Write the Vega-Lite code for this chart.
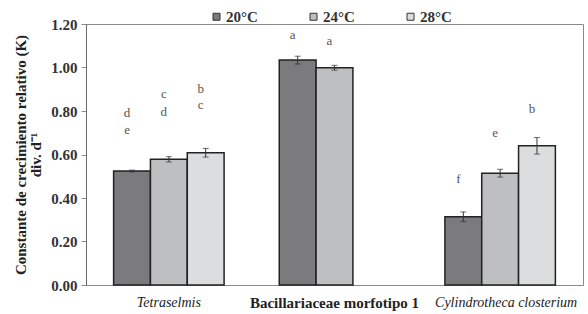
{
  "$schema": "https://vega.github.io/schema/vega-lite/v6.json",
  "width": 497,
  "height": 261,
  "autosize": {"type": "none"},
  "padding": {"left": 86, "top": 24, "right": 5, "bottom": 29},
  "background": "white",
  "config": {
    "view": {"stroke": "#8a8a8a", "strokeWidth": 1},
    "font": "'Liberation Serif', 'Times New Roman', 'DejaVu Serif', serif"
  },
  "data": {
    "values": [
      {"sp": "Tetraselmis", "temp": "20°C", "value": 0.524, "lo": 0.520, "hi": 0.528},
      {"sp": "Tetraselmis", "temp": "24°C", "value": 0.578, "lo": 0.566, "hi": 0.590},
      {"sp": "Tetraselmis", "temp": "28°C", "value": 0.608, "lo": 0.588, "hi": 0.628},
      {"sp": "Bacillariaceae morfotipo 1", "temp": "20°C", "value": 1.034, "lo": 1.016, "hi": 1.052},
      {"sp": "Bacillariaceae morfotipo 1", "temp": "24°C", "value": 0.999, "lo": 0.988, "hi": 1.010},
      {"sp": "Cylindrotheca closterium", "temp": "20°C", "value": 0.314, "lo": 0.292, "hi": 0.336},
      {"sp": "Cylindrotheca closterium", "temp": "24°C", "value": 0.514, "lo": 0.496, "hi": 0.532},
      {"sp": "Cylindrotheca closterium", "temp": "28°C", "value": 0.640, "lo": 0.602, "hi": 0.678}
    ]
  },
  "encoding": {
    "x": {
      "field": "sp",
      "type": "nominal",
      "sort": ["Tetraselmis", "Bacillariaceae morfotipo 1", "Cylindrotheca closterium"],
      "scale": {"domain": ["Tetraselmis", "Bacillariaceae morfotipo 1", "Cylindrotheca closterium"], "paddingInner": 0.333, "paddingOuter": 0.1667},
      "axis": {
        "title": null,
        "labelAngle": 0,
        "ticks": false,
        "domainColor": "#8a8a8a",
        "labelPadding": 10,
        "labelFont": "'Liberation Serif', 'Times New Roman', serif",
        "labelFontSize": {"expr": "datum.value == 'Bacillariaceae morfotipo 1' ? 15 : 14"},
        "labelOffset": {"expr": "datum.value == 'Cylindrotheca closterium' ? 6 : 0"},
        "labelColor": "#222",
        "labelFontStyle": {"expr": "datum.value == 'Bacillariaceae morfotipo 1' ? 'normal' : 'italic'"},
        "labelFontWeight": {"expr": "datum.value == 'Bacillariaceae morfotipo 1' ? 'bold' : 'normal'"}
      }
    },
    "xOffset": {
      "field": "temp",
      "type": "nominal",
      "scale": {"domain": ["20°C", "24°C", "28°C"], "paddingInner": 0, "paddingOuter": 0}
    }
  },
  "layer": [
    {
      "mark": {"type": "bar", "stroke": "#222", "strokeWidth": 1.5},
      "encoding": {
        "y": {
          "field": "value",
          "type": "quantitative",
          "scale": {"domain": [0, 1.2], "nice": false},
          "axis": {
            "values": [0, 0.2, 0.4, 0.6, 0.8, 1.0, 1.2],
            "format": ".2f",
            "grid": false,
            "tickSize": 5,
            "tickColor": "#8a8a8a",
            "domainColor": "#6a6a6a",
            "labelPadding": 4,
            "labelFont": "'Liberation Serif', 'Times New Roman', serif",
            "labelFontWeight": "bold",
            "labelFontSize": 15,
            "labelColor": "#333",
            "title": ["Constante de crecimiento relativo (K)", "div. d⁻¹"],
            "titleFont": "'Liberation Serif', 'Times New Roman', serif",
            "titleFontSize": 15,
            "titleFontWeight": "bold",
            "titleColor": "#222",
            "titleLineHeight": 15,
            "titlePadding": 7
          }
        },
        "color": {
          "field": "temp",
          "type": "nominal",
          "scale": {"domain": ["20°C", "24°C", "28°C"], "range": ["#7b7b7e", "#bebfc1", "#dcdddf"]},
          "legend": {
            "orient": "none",
            "legendX": 123,
            "legendY": -15,
            "direction": "horizontal",
            "title": null,
            "symbolType": "square",
            "symbolSize": 49,
            "symbolStrokeColor": "#333",
            "symbolStrokeWidth": 1,
            "labelFont": "'Liberation Serif', 'Times New Roman', serif",
            "labelFontWeight": "bold",
            "labelFontSize": 15,
            "labelColor": "#333",
            "labelOffset": 2,
            "columnPadding": 48
          }
        }
      }
    },
    {
      "mark": {"type": "rule", "color": "#333", "strokeWidth": 1},
      "encoding": {
        "y": {"field": "lo", "type": "quantitative"},
        "y2": {"field": "hi"}
      }
    },
    {
      "mark": {"type": "tick", "color": "#333", "size": 6, "thickness": 1},
      "encoding": {"y": {"field": "lo", "type": "quantitative"}}
    },
    {
      "mark": {"type": "tick", "color": "#333", "size": 6, "thickness": 1},
      "encoding": {"y": {"field": "hi", "type": "quantitative"}}
    },
    {
      "data": {
        "values": [
          {"sp": "Tetraselmis", "temp": "20°C", "letter": "d", "ly": 0.771},
          {"sp": "Tetraselmis", "temp": "20°C", "letter": "e", "ly": 0.694},
          {"sp": "Tetraselmis", "temp": "24°C", "letter": "c", "ly": 0.858},
          {"sp": "Tetraselmis", "temp": "24°C", "letter": "d", "ly": 0.777},
          {"sp": "Tetraselmis", "temp": "28°C", "letter": "b", "ly": 0.881},
          {"sp": "Tetraselmis", "temp": "28°C", "letter": "c", "ly": 0.809},
          {"sp": "Bacillariaceae morfotipo 1", "temp": "20°C", "letter": "a", "ly": 1.130},
          {"sp": "Bacillariaceae morfotipo 1", "temp": "24°C", "letter": "a", "ly": 1.103},
          {"sp": "Cylindrotheca closterium", "temp": "20°C", "letter": "f", "ly": 0.470},
          {"sp": "Cylindrotheca closterium", "temp": "24°C", "letter": "e", "ly": 0.680},
          {"sp": "Cylindrotheca closterium", "temp": "28°C", "letter": "b", "ly": 0.789}
        ]
      },
      "mark": {"type": "text", "font": "'Liberation Serif', 'Times New Roman', serif", "fontSize": 13, "fill": "#555", "baseline": "alphabetic", "dx": -5},
      "encoding": {
        "y": {"field": "ly", "type": "quantitative"},
        "text": {"field": "letter"}
      }
    }
  ]
}
